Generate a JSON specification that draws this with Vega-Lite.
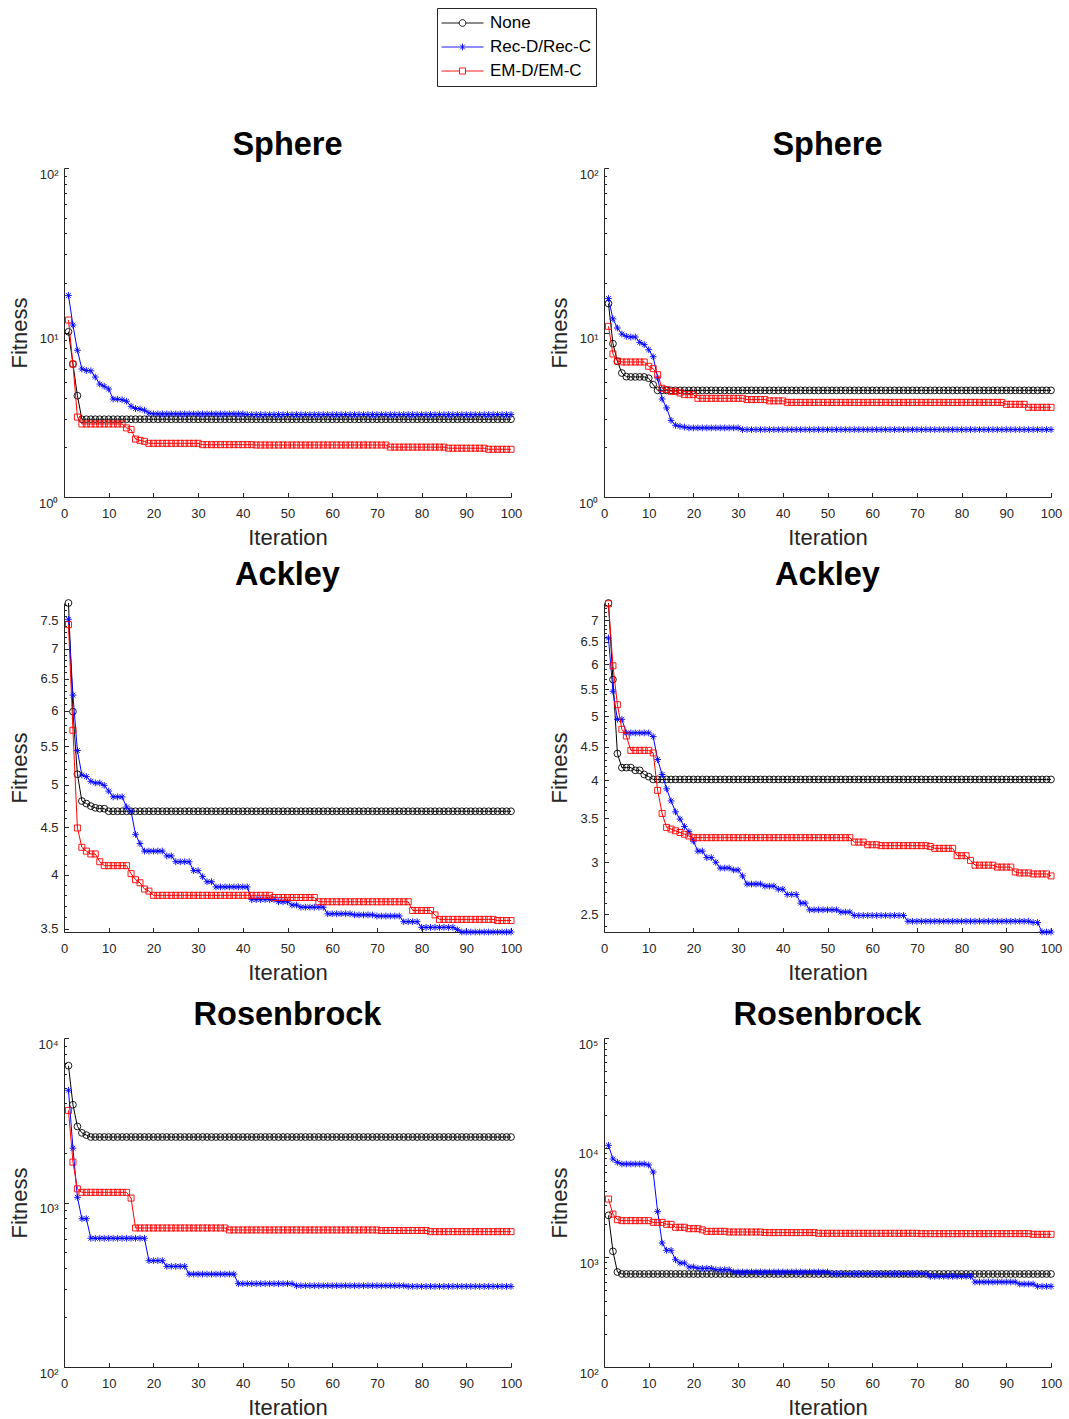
{
"$schema":"https://vega.github.io/schema/vega-lite/v6.json",
"autosize":{"type":"none"},
"padding":{"left":64,"top":168,"right":1005,"bottom":1251},
"background":"#ffffff",
"config":{
 "view":{"stroke":null},
 "font":"Liberation Sans",
 "axis":{"grid":false,"domainColor":"#262626","tickColor":"#262626","labelColor":"#262626","titleColor":"#262626","labelFont":"Liberation Sans","titleFont":"Liberation Sans","labelFontSize":13,"titleFontSize":22,"titleFontWeight":"normal","labelOverlap":false,"labelFlush":false,"domainWidth":1,"tickWidth":1},
 "title":{"font":"Liberation Sans","fontSize":32.5,"fontWeight":"bold","color":"#000000","anchor":"middle","frame":"group","baseline":"alphabetic","offset":6}
},
"columns":2,
"spacing":{"row":106,"column":93},
"bounds":"flush",
"concat":[
{"title":{"text":"Sphere"},"width":447,"height":329,
"encoding":{"x":{"field":"i","type":"quantitative","scale":{"domain":[0,100],"nice":false},"axis":{"values":[0,10,20,30,40,50,60,70,80,90,100],"tickSize":-4.5,"labelPadding":14.5,"title":"Iteration","titleY":47,"titleBaseline":"alphabetic"}}},
"layer":[
{"data":{"name":"s1n"},"mark":{"type":"line","strokeWidth":1,"point":{"shape":"circle","filled":false,"size":46,"strokeWidth":0.9}},"encoding":{"y":{"field":"v","type":"quantitative","scale":{"type":"log","domain":[1,100],"nice":false},"axis":{"orient":"left","values":[1,10,100],"labelExpr":"'10'+['⁰','¹','²','³','⁴','⁵'][round(log(datum.value)/LN10)]","tickSize":-4.5,"labelPadding":10.5,"labelOffset":6,"title":"Fitness","titleX":-37.6,"titleY":164.5,"titleAngle":-90,"titleAlign":"center","titleBaseline":"alphabetic"}},
 "color":{"datum":"None","scale":{"domain":["None","Rec-D/Rec-C","EM-D/EM-C"],"range":["#000000","#0000ff","#ff0000"]},"legend":{"title":null,"orient":"none","legendX":373,"legendY":-160,"direction":"vertical","strokeColor":"#262626","fillColor":"#ffffff","padding":4,"symbolSize":1764,"clipHeight":22,"rowPadding":2,"labelFontSize":17,"labelFont":"Liberation Sans","labelColor":"#000000","labelOffset":6,"symbolStrokeWidth":0.9,"encode":{"symbols":{"update":{"shape":{"signal":"datum.value==='None'?'M-1,0H-0.16M0.16,0H1M0.16,0A0.16,0.16,0,1,0,-0.16,0A0.16,0.16,0,1,0,0.16,0':datum.value==='Rec-D/Rec-C'?'M-1,0H1M0,-0.16V0.16M-0.113,-0.113L0.113,0.113M-0.113,0.113L0.113,-0.113':'M-1,0H-0.143M0.143,0H1M-0.143,-0.143H0.143V0.143H-0.143Z'"},"fill":{"value":"transparent"},"stroke":{"scale":"color","field":"value"},"strokeWidth":{"value":0.9},"size":{"value":1764},"opacity":{"value":1}}}}}}}},
{"data":{"name":"s1r"},"mark":{"type":"line","strokeWidth":1,"point":{"shape":"M0,-1V1M-1,0H1M-0.7,-0.7L0.7,0.7M-0.7,0.7L0.7,-0.7","filled":false,"size":46,"strokeWidth":0.9}},"encoding":{"y":{"field":"v","type":"quantitative","scale":{"type":"log","domain":[1,100],"nice":false},"axis":null},"color":{"datum":"Rec-D/Rec-C"}}},
{"data":{"name":"s1e"},"mark":{"type":"line","strokeWidth":1,"point":{"shape":"square","filled":false,"size":36,"strokeWidth":0.9}},"encoding":{"y":{"field":"v","type":"quantitative","scale":{"type":"log","domain":[1,100],"nice":false},"axis":null},"color":{"datum":"EM-D/EM-C"}}},
{"data":{"name":"s1n"},"mark":{"type":"point","opacity":0},"encoding":{"y":{"field":"v","type":"quantitative","scale":{"type":"log","domain":[1,100],"nice":false},"axis":{"orient":"left","values":[2,3,4,5,6,7,8,9,20,30,40,50,60,70,80,90],"labels":false,"domain":false,"title":null,"tickSize":-2.5}}}}
],"resolve":{"axis":{"y":"independent"}}},

{"title":{"text":"Sphere"},"width":447,"height":329,
"encoding":{"x":{"field":"i","type":"quantitative","scale":{"domain":[0,100],"nice":false},"axis":{"values":[0,10,20,30,40,50,60,70,80,90,100],"tickSize":-4.5,"labelPadding":14.5,"title":"Iteration","titleY":47,"titleBaseline":"alphabetic"}}},
"layer":[
{"data":{"name":"s2n"},"mark":{"type":"line","strokeWidth":1,"point":{"shape":"circle","filled":false,"size":46,"strokeWidth":0.9}},"encoding":{"y":{"field":"v","type":"quantitative","scale":{"type":"log","domain":[1,100],"nice":false},"axis":{"orient":"left","values":[1,10,100],"labelExpr":"'10'+['⁰','¹','²','³','⁴','⁵'][round(log(datum.value)/LN10)]","tickSize":-4.5,"labelPadding":10.5,"labelOffset":6,"title":"Fitness","titleX":-37.6,"titleY":164.5,"titleAngle":-90,"titleAlign":"center","titleBaseline":"alphabetic"}},"color":{"datum":"None"}}},
{"data":{"name":"s2r"},"mark":{"type":"line","strokeWidth":1,"point":{"shape":"M0,-1V1M-1,0H1M-0.7,-0.7L0.7,0.7M-0.7,0.7L0.7,-0.7","filled":false,"size":46,"strokeWidth":0.9}},"encoding":{"y":{"field":"v","type":"quantitative","scale":{"type":"log","domain":[1,100],"nice":false},"axis":null},"color":{"datum":"Rec-D/Rec-C"}}},
{"data":{"name":"s2e"},"mark":{"type":"line","strokeWidth":1,"point":{"shape":"square","filled":false,"size":36,"strokeWidth":0.9}},"encoding":{"y":{"field":"v","type":"quantitative","scale":{"type":"log","domain":[1,100],"nice":false},"axis":null},"color":{"datum":"EM-D/EM-C"}}},
{"data":{"name":"s2n"},"mark":{"type":"point","opacity":0},"encoding":{"y":{"field":"v","type":"quantitative","scale":{"type":"log","domain":[1,100],"nice":false},"axis":{"orient":"left","values":[2,3,4,5,6,7,8,9,20,30,40,50,60,70,80,90],"labels":false,"domain":false,"title":null,"tickSize":-2.5}}}}
],"resolve":{"axis":{"y":"independent"}}},

{"title":{"text":"Ackley"},"width":447,"height":329,
"encoding":{"x":{"field":"i","type":"quantitative","scale":{"domain":[0,100],"nice":false},"axis":{"values":[0,10,20,30,40,50,60,70,80,90,100],"tickSize":-4.5,"labelPadding":14.5,"title":"Iteration","titleY":47,"titleBaseline":"alphabetic"}}},
"layer":[
{"data":{"name":"a1n"},"mark":{"type":"line","strokeWidth":1,"point":{"shape":"circle","filled":false,"size":46,"strokeWidth":0.9}},"encoding":{"y":{"field":"v","type":"quantitative","scale":{"type":"log","domain":[3.47,7.84],"nice":false},"axis":{"orient":"left","values":[3.5,4,4.5,5,5.5,6,6.5,7,7.5],"format":"~g","tickSize":-4.5,"labelPadding":10.5,"title":"Fitness","titleX":-37.6,"titleY":164.5,"titleAngle":-90,"titleAlign":"center","titleBaseline":"alphabetic"}},"color":{"datum":"None"}}},
{"data":{"name":"a1r"},"mark":{"type":"line","strokeWidth":1,"point":{"shape":"M0,-1V1M-1,0H1M-0.7,-0.7L0.7,0.7M-0.7,0.7L0.7,-0.7","filled":false,"size":46,"strokeWidth":0.9}},"encoding":{"y":{"field":"v","type":"quantitative","scale":{"type":"log","domain":[3.47,7.84],"nice":false},"axis":null},"color":{"datum":"Rec-D/Rec-C"}}},
{"data":{"name":"a1e"},"mark":{"type":"line","strokeWidth":1,"point":{"shape":"square","filled":false,"size":36,"strokeWidth":0.9}},"encoding":{"y":{"field":"v","type":"quantitative","scale":{"type":"log","domain":[3.47,7.84],"nice":false},"axis":null},"color":{"datum":"EM-D/EM-C"}}},
{"data":{"name":"a1n"},"mark":{"type":"point","opacity":0},"encoding":{"y":{"field":"v","type":"quantitative","scale":{"type":"log","domain":[3.47,7.84],"nice":false},"axis":{"orient":"left","values":[3.6,3.7,3.8,3.9,4.1,4.2,4.3,4.4,4.6,4.7,4.8,4.9,5.1,5.2,5.3,5.4,5.6,5.7,5.8,5.9,6.1,6.2,6.3,6.4,6.6,6.7,6.8,6.9,7.1,7.2,7.3,7.4,7.6,7.7,7.8],"labels":false,"domain":false,"title":null,"tickSize":-2.5}}}}
],"resolve":{"axis":{"y":"independent"}}},

{"title":{"text":"Ackley"},"width":447,"height":329,
"encoding":{"x":{"field":"i","type":"quantitative","scale":{"domain":[0,100],"nice":false},"axis":{"values":[0,10,20,30,40,50,60,70,80,90,100],"tickSize":-4.5,"labelPadding":14.5,"title":"Iteration","titleY":47,"titleBaseline":"alphabetic"}}},
"layer":[
{"data":{"name":"a2n"},"mark":{"type":"line","strokeWidth":1,"point":{"shape":"circle","filled":false,"size":46,"strokeWidth":0.9}},"encoding":{"y":{"field":"v","type":"quantitative","scale":{"type":"log","domain":[2.35,7.44],"nice":false},"axis":{"orient":"left","values":[2.5,3,3.5,4,4.5,5,5.5,6,6.5,7],"format":"~g","tickSize":-4.5,"labelPadding":10.5,"title":"Fitness","titleX":-37.6,"titleY":164.5,"titleAngle":-90,"titleAlign":"center","titleBaseline":"alphabetic"}},"color":{"datum":"None"}}},
{"data":{"name":"a2r"},"mark":{"type":"line","strokeWidth":1,"point":{"shape":"M0,-1V1M-1,0H1M-0.7,-0.7L0.7,0.7M-0.7,0.7L0.7,-0.7","filled":false,"size":46,"strokeWidth":0.9}},"encoding":{"y":{"field":"v","type":"quantitative","scale":{"type":"log","domain":[2.35,7.44],"nice":false},"axis":null},"color":{"datum":"Rec-D/Rec-C"}}},
{"data":{"name":"a2e"},"mark":{"type":"line","strokeWidth":1,"point":{"shape":"square","filled":false,"size":36,"strokeWidth":0.9}},"encoding":{"y":{"field":"v","type":"quantitative","scale":{"type":"log","domain":[2.35,7.44],"nice":false},"axis":null},"color":{"datum":"EM-D/EM-C"}}},
{"data":{"name":"a2n"},"mark":{"type":"point","opacity":0},"encoding":{"y":{"field":"v","type":"quantitative","scale":{"type":"log","domain":[2.35,7.44],"nice":false},"axis":{"orient":"left","values":[2.4,2.6,2.7,2.8,2.9,3.1,3.2,3.3,3.4,3.6,3.7,3.8,3.9,4.1,4.2,4.3,4.4,4.6,4.7,4.8,4.9,5.1,5.2,5.3,5.4,5.6,5.7,5.8,5.9,6.1,6.2,6.3,6.4,6.6,6.7,6.8,6.9,7.1,7.2,7.3,7.4],"labels":false,"domain":false,"title":null,"tickSize":-2.5}}}}
],"resolve":{"axis":{"y":"independent"}}},

{"title":{"text":"Rosenbrock"},"width":447,"height":329,
"encoding":{"x":{"field":"i","type":"quantitative","scale":{"domain":[0,100],"nice":false},"axis":{"values":[0,10,20,30,40,50,60,70,80,90,100],"tickSize":-4.5,"labelPadding":14.5,"title":"Iteration","titleY":47,"titleBaseline":"alphabetic"}}},
"layer":[
{"data":{"name":"r1n"},"mark":{"type":"line","strokeWidth":1,"point":{"shape":"circle","filled":false,"size":46,"strokeWidth":0.9}},"encoding":{"y":{"field":"v","type":"quantitative","scale":{"type":"log","domain":[100,10000],"nice":false},"axis":{"orient":"left","values":[100,1000,10000],"labelExpr":"'10'+['⁰','¹','²','³','⁴','⁵'][round(log(datum.value)/LN10)]","tickSize":-4.5,"labelPadding":10.5,"labelOffset":6,"title":"Fitness","titleX":-37.6,"titleY":164.5,"titleAngle":-90,"titleAlign":"center","titleBaseline":"alphabetic"}},"color":{"datum":"None"}}},
{"data":{"name":"r1r"},"mark":{"type":"line","strokeWidth":1,"point":{"shape":"M0,-1V1M-1,0H1M-0.7,-0.7L0.7,0.7M-0.7,0.7L0.7,-0.7","filled":false,"size":46,"strokeWidth":0.9}},"encoding":{"y":{"field":"v","type":"quantitative","scale":{"type":"log","domain":[100,10000],"nice":false},"axis":null},"color":{"datum":"Rec-D/Rec-C"}}},
{"data":{"name":"r1e"},"mark":{"type":"line","strokeWidth":1,"point":{"shape":"square","filled":false,"size":36,"strokeWidth":0.9}},"encoding":{"y":{"field":"v","type":"quantitative","scale":{"type":"log","domain":[100,10000],"nice":false},"axis":null},"color":{"datum":"EM-D/EM-C"}}},
{"data":{"name":"r1n"},"mark":{"type":"point","opacity":0},"encoding":{"y":{"field":"v","type":"quantitative","scale":{"type":"log","domain":[100,10000],"nice":false},"axis":{"orient":"left","values":[200,300,400,500,600,700,800,900,2000,3000,4000,5000,6000,7000,8000,9000],"labels":false,"domain":false,"title":null,"tickSize":-2.5}}}}
],"resolve":{"axis":{"y":"independent"}}},

{"title":{"text":"Rosenbrock"},"width":447,"height":329,
"encoding":{"x":{"field":"i","type":"quantitative","scale":{"domain":[0,100],"nice":false},"axis":{"values":[0,10,20,30,40,50,60,70,80,90,100],"tickSize":-4.5,"labelPadding":14.5,"title":"Iteration","titleY":47,"titleBaseline":"alphabetic"}}},
"layer":[
{"data":{"name":"r2n"},"mark":{"type":"line","strokeWidth":1,"point":{"shape":"circle","filled":false,"size":46,"strokeWidth":0.9}},"encoding":{"y":{"field":"v","type":"quantitative","scale":{"type":"log","domain":[100,100000],"nice":false},"axis":{"orient":"left","values":[100,1000,10000,100000],"labelExpr":"'10'+['⁰','¹','²','³','⁴','⁵'][round(log(datum.value)/LN10)]","tickSize":-4.5,"labelPadding":10.5,"labelOffset":6,"title":"Fitness","titleX":-37.6,"titleY":164.5,"titleAngle":-90,"titleAlign":"center","titleBaseline":"alphabetic"}},"color":{"datum":"None"}}},
{"data":{"name":"r2r"},"mark":{"type":"line","strokeWidth":1,"point":{"shape":"M0,-1V1M-1,0H1M-0.7,-0.7L0.7,0.7M-0.7,0.7L0.7,-0.7","filled":false,"size":46,"strokeWidth":0.9}},"encoding":{"y":{"field":"v","type":"quantitative","scale":{"type":"log","domain":[100,100000],"nice":false},"axis":null},"color":{"datum":"Rec-D/Rec-C"}}},
{"data":{"name":"r2e"},"mark":{"type":"line","strokeWidth":1,"point":{"shape":"square","filled":false,"size":36,"strokeWidth":0.9}},"encoding":{"y":{"field":"v","type":"quantitative","scale":{"type":"log","domain":[100,100000],"nice":false},"axis":null},"color":{"datum":"EM-D/EM-C"}}},
{"data":{"name":"r2n"},"mark":{"type":"point","opacity":0},"encoding":{"y":{"field":"v","type":"quantitative","scale":{"type":"log","domain":[100,100000],"nice":false},"axis":{"orient":"left","values":[200,300,400,500,600,700,800,900,2000,3000,4000,5000,6000,7000,8000,9000,20000,30000,40000,50000,60000,70000,80000,90000],"labels":false,"domain":false,"title":null,"tickSize":-2.5}}}}
],"resolve":{"axis":{"y":"independent"}}}
],
"datasets":{
"s1n":[{"i":1,"v":10.1},{"i":2,"v":6.43},{"i":3,"v":4.13},{"i":4,"v":2.97},{"i":5,"v":2.97},{"i":6,"v":2.97},{"i":7,"v":2.97},{"i":8,"v":2.97},{"i":9,"v":2.97},{"i":10,"v":2.97},
{"i":11,"v":2.97},{"i":12,"v":2.97},{"i":13,"v":2.97},{"i":14,"v":2.97},{"i":15,"v":2.97},{"i":16,"v":2.97},{"i":17,"v":2.97},{"i":18,"v":2.97},{"i":19,"v":2.97},{"i":20,"v":2.97},
{"i":21,"v":2.97},{"i":22,"v":2.97},{"i":23,"v":2.97},{"i":24,"v":2.97},{"i":25,"v":2.97},{"i":26,"v":2.97},{"i":27,"v":2.97},{"i":28,"v":2.97},{"i":29,"v":2.97},{"i":30,"v":2.97},
{"i":31,"v":2.97},{"i":32,"v":2.97},{"i":33,"v":2.97},{"i":34,"v":2.97},{"i":35,"v":2.97},{"i":36,"v":2.97},{"i":37,"v":2.97},{"i":38,"v":2.97},{"i":39,"v":2.97},{"i":40,"v":2.97},
{"i":41,"v":2.97},{"i":42,"v":2.97},{"i":43,"v":2.97},{"i":44,"v":2.97},{"i":45,"v":2.97},{"i":46,"v":2.97},{"i":47,"v":2.97},{"i":48,"v":2.97},{"i":49,"v":2.97},{"i":50,"v":2.97},
{"i":51,"v":2.97},{"i":52,"v":2.97},{"i":53,"v":2.97},{"i":54,"v":2.97},{"i":55,"v":2.97},{"i":56,"v":2.97},{"i":57,"v":2.97},{"i":58,"v":2.97},{"i":59,"v":2.97},{"i":60,"v":2.97},
{"i":61,"v":2.97},{"i":62,"v":2.97},{"i":63,"v":2.97},{"i":64,"v":2.97},{"i":65,"v":2.97},{"i":66,"v":2.97},{"i":67,"v":2.97},{"i":68,"v":2.97},{"i":69,"v":2.97},{"i":70,"v":2.97},
{"i":71,"v":2.97},{"i":72,"v":2.97},{"i":73,"v":2.97},{"i":74,"v":2.97},{"i":75,"v":2.97},{"i":76,"v":2.97},{"i":77,"v":2.97},{"i":78,"v":2.97},{"i":79,"v":2.97},{"i":80,"v":2.97},
{"i":81,"v":2.97},{"i":82,"v":2.97},{"i":83,"v":2.97},{"i":84,"v":2.97},{"i":85,"v":2.97},{"i":86,"v":2.97},{"i":87,"v":2.97},{"i":88,"v":2.97},{"i":89,"v":2.97},{"i":90,"v":2.97},
{"i":91,"v":2.97},{"i":92,"v":2.97},{"i":93,"v":2.97},{"i":94,"v":2.97},{"i":95,"v":2.97},{"i":96,"v":2.97},{"i":97,"v":2.97},{"i":98,"v":2.97},{"i":99,"v":2.97},{"i":100,"v":2.97}],
"s1r":[{"i":1,"v":16.8},{"i":2,"v":11.1},{"i":3,"v":7.8},{"i":4,"v":6.0},{"i":5,"v":5.88},{"i":6,"v":5.85},{"i":7,"v":5.36},{"i":8,"v":4.86},{"i":9,"v":4.71},{"i":10,"v":4.53},
{"i":11,"v":3.94},{"i":12,"v":3.93},{"i":13,"v":3.9},{"i":14,"v":3.82},{"i":15,"v":3.56},{"i":16,"v":3.45},{"i":17,"v":3.43},{"i":18,"v":3.37},{"i":19,"v":3.24},{"i":20,"v":3.2},
{"i":21,"v":3.2},{"i":22,"v":3.2},{"i":23,"v":3.2},{"i":24,"v":3.2},{"i":25,"v":3.2},{"i":26,"v":3.2},{"i":27,"v":3.2},{"i":28,"v":3.2},{"i":29,"v":3.2},{"i":30,"v":3.2},
{"i":31,"v":3.2},{"i":32,"v":3.2},{"i":33,"v":3.2},{"i":34,"v":3.2},{"i":35,"v":3.2},{"i":36,"v":3.2},{"i":37,"v":3.2},{"i":38,"v":3.2},{"i":39,"v":3.2},{"i":40,"v":3.2},
{"i":41,"v":3.17},{"i":42,"v":3.17},{"i":43,"v":3.17},{"i":44,"v":3.17},{"i":45,"v":3.17},{"i":46,"v":3.17},{"i":47,"v":3.17},{"i":48,"v":3.17},{"i":49,"v":3.17},{"i":50,"v":3.17},
{"i":51,"v":3.17},{"i":52,"v":3.17},{"i":53,"v":3.17},{"i":54,"v":3.17},{"i":55,"v":3.17},{"i":56,"v":3.17},{"i":57,"v":3.17},{"i":58,"v":3.17},{"i":59,"v":3.17},{"i":60,"v":3.17},
{"i":61,"v":3.17},{"i":62,"v":3.17},{"i":63,"v":3.17},{"i":64,"v":3.17},{"i":65,"v":3.17},{"i":66,"v":3.17},{"i":67,"v":3.17},{"i":68,"v":3.17},{"i":69,"v":3.17},{"i":70,"v":3.17},
{"i":71,"v":3.17},{"i":72,"v":3.17},{"i":73,"v":3.17},{"i":74,"v":3.17},{"i":75,"v":3.17},{"i":76,"v":3.17},{"i":77,"v":3.17},{"i":78,"v":3.17},{"i":79,"v":3.17},{"i":80,"v":3.17},
{"i":81,"v":3.17},{"i":82,"v":3.17},{"i":83,"v":3.17},{"i":84,"v":3.17},{"i":85,"v":3.17},{"i":86,"v":3.17},{"i":87,"v":3.17},{"i":88,"v":3.17},{"i":89,"v":3.17},{"i":90,"v":3.17},
{"i":91,"v":3.17},{"i":92,"v":3.17},{"i":93,"v":3.17},{"i":94,"v":3.17},{"i":95,"v":3.17},{"i":96,"v":3.17},{"i":97,"v":3.17},{"i":98,"v":3.17},{"i":99,"v":3.17},{"i":100,"v":3.17}],
"s1e":[{"i":1,"v":11.9},{"i":2,"v":6.43},{"i":3,"v":3.06},{"i":4,"v":2.78},{"i":5,"v":2.78},{"i":6,"v":2.78},{"i":7,"v":2.78},{"i":8,"v":2.78},{"i":9,"v":2.78},{"i":10,"v":2.78},
{"i":11,"v":2.78},{"i":12,"v":2.78},{"i":13,"v":2.78},{"i":14,"v":2.63},{"i":15,"v":2.57},{"i":16,"v":2.25},{"i":17,"v":2.21},{"i":18,"v":2.18},{"i":19,"v":2.12},{"i":20,"v":2.12},
{"i":21,"v":2.12},{"i":22,"v":2.12},{"i":23,"v":2.12},{"i":24,"v":2.12},{"i":25,"v":2.12},{"i":26,"v":2.12},{"i":27,"v":2.12},{"i":28,"v":2.12},{"i":29,"v":2.12},{"i":30,"v":2.12},
{"i":31,"v":2.08},{"i":32,"v":2.08},{"i":33,"v":2.08},{"i":34,"v":2.08},{"i":35,"v":2.08},{"i":36,"v":2.08},{"i":37,"v":2.08},{"i":38,"v":2.08},{"i":39,"v":2.08},{"i":40,"v":2.08},
{"i":41,"v":2.08},{"i":42,"v":2.08},{"i":43,"v":2.07},{"i":44,"v":2.07},{"i":45,"v":2.07},{"i":46,"v":2.07},{"i":47,"v":2.07},{"i":48,"v":2.07},{"i":49,"v":2.07},{"i":50,"v":2.07},
{"i":51,"v":2.07},{"i":52,"v":2.07},{"i":53,"v":2.07},{"i":54,"v":2.07},{"i":55,"v":2.07},{"i":56,"v":2.07},{"i":57,"v":2.07},{"i":58,"v":2.07},{"i":59,"v":2.07},{"i":60,"v":2.07},
{"i":61,"v":2.07},{"i":62,"v":2.07},{"i":63,"v":2.07},{"i":64,"v":2.07},{"i":65,"v":2.07},{"i":66,"v":2.07},{"i":67,"v":2.07},{"i":68,"v":2.07},{"i":69,"v":2.07},{"i":70,"v":2.07},
{"i":71,"v":2.07},{"i":72,"v":2.07},{"i":73,"v":2.01},{"i":74,"v":2.01},{"i":75,"v":2.01},{"i":76,"v":2.01},{"i":77,"v":2.01},{"i":78,"v":2.01},{"i":79,"v":2.01},{"i":80,"v":2.01},
{"i":81,"v":2.01},{"i":82,"v":2.01},{"i":83,"v":2.01},{"i":84,"v":2.01},{"i":85,"v":2.01},{"i":86,"v":1.98},{"i":87,"v":1.98},{"i":88,"v":1.98},{"i":89,"v":1.98},{"i":90,"v":1.98},
{"i":91,"v":1.98},{"i":92,"v":1.98},{"i":93,"v":1.98},{"i":94,"v":1.98},{"i":95,"v":1.95},{"i":96,"v":1.95},{"i":97,"v":1.95},{"i":98,"v":1.95},{"i":99,"v":1.95},{"i":100,"v":1.95}],
"s2n":[{"i":1,"v":15.0},{"i":2,"v":8.55},{"i":3,"v":6.68},{"i":4,"v":5.67},{"i":5,"v":5.39},{"i":6,"v":5.37},{"i":7,"v":5.37},{"i":8,"v":5.37},{"i":9,"v":5.37},{"i":10,"v":5.27},
{"i":11,"v":4.82},{"i":12,"v":4.45},{"i":13,"v":4.45},{"i":14,"v":4.45},{"i":15,"v":4.45},{"i":16,"v":4.45},{"i":17,"v":4.45},{"i":18,"v":4.45},{"i":19,"v":4.45},{"i":20,"v":4.45},
{"i":21,"v":4.45},{"i":22,"v":4.45},{"i":23,"v":4.45},{"i":24,"v":4.45},{"i":25,"v":4.45},{"i":26,"v":4.45},{"i":27,"v":4.45},{"i":28,"v":4.45},{"i":29,"v":4.45},{"i":30,"v":4.45},
{"i":31,"v":4.45},{"i":32,"v":4.45},{"i":33,"v":4.45},{"i":34,"v":4.45},{"i":35,"v":4.45},{"i":36,"v":4.45},{"i":37,"v":4.45},{"i":38,"v":4.45},{"i":39,"v":4.45},{"i":40,"v":4.45},
{"i":41,"v":4.45},{"i":42,"v":4.45},{"i":43,"v":4.45},{"i":44,"v":4.45},{"i":45,"v":4.45},{"i":46,"v":4.45},{"i":47,"v":4.45},{"i":48,"v":4.45},{"i":49,"v":4.45},{"i":50,"v":4.45},
{"i":51,"v":4.45},{"i":52,"v":4.45},{"i":53,"v":4.45},{"i":54,"v":4.45},{"i":55,"v":4.45},{"i":56,"v":4.45},{"i":57,"v":4.45},{"i":58,"v":4.45},{"i":59,"v":4.45},{"i":60,"v":4.45},
{"i":61,"v":4.45},{"i":62,"v":4.45},{"i":63,"v":4.45},{"i":64,"v":4.45},{"i":65,"v":4.45},{"i":66,"v":4.45},{"i":67,"v":4.45},{"i":68,"v":4.45},{"i":69,"v":4.45},{"i":70,"v":4.45},
{"i":71,"v":4.45},{"i":72,"v":4.45},{"i":73,"v":4.45},{"i":74,"v":4.45},{"i":75,"v":4.45},{"i":76,"v":4.45},{"i":77,"v":4.45},{"i":78,"v":4.45},{"i":79,"v":4.45},{"i":80,"v":4.45},
{"i":81,"v":4.45},{"i":82,"v":4.45},{"i":83,"v":4.45},{"i":84,"v":4.45},{"i":85,"v":4.45},{"i":86,"v":4.45},{"i":87,"v":4.45},{"i":88,"v":4.45},{"i":89,"v":4.45},{"i":90,"v":4.45},
{"i":91,"v":4.45},{"i":92,"v":4.45},{"i":93,"v":4.45},{"i":94,"v":4.45},{"i":95,"v":4.45},{"i":96,"v":4.45},{"i":97,"v":4.45},{"i":98,"v":4.45},{"i":99,"v":4.45},{"i":100,"v":4.45}],
"s2r":[{"i":1,"v":16.1},{"i":2,"v":12.1},{"i":3,"v":10.65},{"i":4,"v":9.79},{"i":5,"v":9.48},{"i":6,"v":9.39},{"i":7,"v":9.39},{"i":8,"v":8.71},{"i":9,"v":8.44},{"i":10,"v":7.86},
{"i":11,"v":7.13},{"i":12,"v":5.29},{"i":13,"v":3.94},{"i":14,"v":3.48},{"i":15,"v":2.92},{"i":16,"v":2.73},{"i":17,"v":2.69},{"i":18,"v":2.66},{"i":19,"v":2.63},{"i":20,"v":2.63},
{"i":21,"v":2.63},{"i":22,"v":2.63},{"i":23,"v":2.63},{"i":24,"v":2.63},{"i":25,"v":2.63},{"i":26,"v":2.63},{"i":27,"v":2.63},{"i":28,"v":2.63},{"i":29,"v":2.63},{"i":30,"v":2.63},
{"i":31,"v":2.57},{"i":32,"v":2.57},{"i":33,"v":2.57},{"i":34,"v":2.57},{"i":35,"v":2.57},{"i":36,"v":2.57},{"i":37,"v":2.57},{"i":38,"v":2.57},{"i":39,"v":2.57},{"i":40,"v":2.57},
{"i":41,"v":2.57},{"i":42,"v":2.57},{"i":43,"v":2.57},{"i":44,"v":2.57},{"i":45,"v":2.57},{"i":46,"v":2.57},{"i":47,"v":2.57},{"i":48,"v":2.57},{"i":49,"v":2.57},{"i":50,"v":2.57},
{"i":51,"v":2.57},{"i":52,"v":2.57},{"i":53,"v":2.57},{"i":54,"v":2.57},{"i":55,"v":2.57},{"i":56,"v":2.57},{"i":57,"v":2.57},{"i":58,"v":2.57},{"i":59,"v":2.57},{"i":60,"v":2.57},
{"i":61,"v":2.57},{"i":62,"v":2.57},{"i":63,"v":2.57},{"i":64,"v":2.57},{"i":65,"v":2.57},{"i":66,"v":2.57},{"i":67,"v":2.57},{"i":68,"v":2.57},{"i":69,"v":2.57},{"i":70,"v":2.57},
{"i":71,"v":2.57},{"i":72,"v":2.57},{"i":73,"v":2.57},{"i":74,"v":2.57},{"i":75,"v":2.57},{"i":76,"v":2.57},{"i":77,"v":2.57},{"i":78,"v":2.57},{"i":79,"v":2.57},{"i":80,"v":2.57},
{"i":81,"v":2.57},{"i":82,"v":2.57},{"i":83,"v":2.57},{"i":84,"v":2.57},{"i":85,"v":2.57},{"i":86,"v":2.57},{"i":87,"v":2.57},{"i":88,"v":2.57},{"i":89,"v":2.57},{"i":90,"v":2.57},
{"i":91,"v":2.57},{"i":92,"v":2.57},{"i":93,"v":2.57},{"i":94,"v":2.57},{"i":95,"v":2.57},{"i":96,"v":2.57},{"i":97,"v":2.57},{"i":98,"v":2.57},{"i":99,"v":2.57},{"i":100,"v":2.57}],
"s2e":[{"i":1,"v":10.9},{"i":2,"v":7.4},{"i":3,"v":6.71},{"i":4,"v":6.62},{"i":5,"v":6.62},{"i":6,"v":6.62},{"i":7,"v":6.62},{"i":8,"v":6.62},{"i":9,"v":6.62},{"i":10,"v":6.23},
{"i":11,"v":6.03},{"i":12,"v":5.54},{"i":13,"v":4.58},{"i":14,"v":4.5},{"i":15,"v":4.39},{"i":16,"v":4.39},{"i":17,"v":4.29},{"i":18,"v":4.19},{"i":19,"v":4.19},{"i":20,"v":4.19},
{"i":21,"v":3.98},{"i":22,"v":3.98},{"i":23,"v":3.98},{"i":24,"v":3.98},{"i":25,"v":3.98},{"i":26,"v":3.98},{"i":27,"v":3.98},{"i":28,"v":3.98},{"i":29,"v":3.98},{"i":30,"v":3.98},
{"i":31,"v":3.98},{"i":32,"v":3.91},{"i":33,"v":3.91},{"i":34,"v":3.91},{"i":35,"v":3.91},{"i":36,"v":3.91},{"i":37,"v":3.84},{"i":38,"v":3.84},{"i":39,"v":3.84},{"i":40,"v":3.84},
{"i":41,"v":3.76},{"i":42,"v":3.76},{"i":43,"v":3.76},{"i":44,"v":3.76},{"i":45,"v":3.76},{"i":46,"v":3.76},{"i":47,"v":3.76},{"i":48,"v":3.76},{"i":49,"v":3.76},{"i":50,"v":3.76},
{"i":51,"v":3.76},{"i":52,"v":3.76},{"i":53,"v":3.76},{"i":54,"v":3.76},{"i":55,"v":3.76},{"i":56,"v":3.76},{"i":57,"v":3.76},{"i":58,"v":3.76},{"i":59,"v":3.76},{"i":60,"v":3.76},
{"i":61,"v":3.76},{"i":62,"v":3.76},{"i":63,"v":3.76},{"i":64,"v":3.76},{"i":65,"v":3.76},{"i":66,"v":3.76},{"i":67,"v":3.76},{"i":68,"v":3.76},{"i":69,"v":3.76},{"i":70,"v":3.76},
{"i":71,"v":3.76},{"i":72,"v":3.76},{"i":73,"v":3.76},{"i":74,"v":3.76},{"i":75,"v":3.76},{"i":76,"v":3.76},{"i":77,"v":3.76},{"i":78,"v":3.76},{"i":79,"v":3.76},{"i":80,"v":3.76},
{"i":81,"v":3.76},{"i":82,"v":3.76},{"i":83,"v":3.76},{"i":84,"v":3.76},{"i":85,"v":3.76},{"i":86,"v":3.76},{"i":87,"v":3.76},{"i":88,"v":3.76},{"i":89,"v":3.76},{"i":90,"v":3.66},
{"i":91,"v":3.66},{"i":92,"v":3.66},{"i":93,"v":3.66},{"i":94,"v":3.66},{"i":95,"v":3.51},{"i":96,"v":3.51},{"i":97,"v":3.51},{"i":98,"v":3.51},{"i":99,"v":3.51},{"i":100,"v":3.51}],
"a1n":[{"i":1,"v":7.84},{"i":2,"v":5.99},{"i":3,"v":5.13},{"i":4,"v":4.8},{"i":5,"v":4.77},{"i":6,"v":4.74},{"i":7,"v":4.72},{"i":8,"v":4.71},{"i":9,"v":4.71},{"i":10,"v":4.68},
{"i":11,"v":4.68},{"i":12,"v":4.68},{"i":13,"v":4.68},{"i":14,"v":4.68},{"i":15,"v":4.68},{"i":16,"v":4.68},{"i":17,"v":4.68},{"i":18,"v":4.68},{"i":19,"v":4.68},{"i":20,"v":4.68},
{"i":21,"v":4.68},{"i":22,"v":4.68},{"i":23,"v":4.68},{"i":24,"v":4.68},{"i":25,"v":4.68},{"i":26,"v":4.68},{"i":27,"v":4.68},{"i":28,"v":4.68},{"i":29,"v":4.68},{"i":30,"v":4.68},
{"i":31,"v":4.68},{"i":32,"v":4.68},{"i":33,"v":4.68},{"i":34,"v":4.68},{"i":35,"v":4.68},{"i":36,"v":4.68},{"i":37,"v":4.68},{"i":38,"v":4.68},{"i":39,"v":4.68},{"i":40,"v":4.68},
{"i":41,"v":4.68},{"i":42,"v":4.68},{"i":43,"v":4.68},{"i":44,"v":4.68},{"i":45,"v":4.68},{"i":46,"v":4.68},{"i":47,"v":4.68},{"i":48,"v":4.68},{"i":49,"v":4.68},{"i":50,"v":4.68},
{"i":51,"v":4.68},{"i":52,"v":4.68},{"i":53,"v":4.68},{"i":54,"v":4.68},{"i":55,"v":4.68},{"i":56,"v":4.68},{"i":57,"v":4.68},{"i":58,"v":4.68},{"i":59,"v":4.68},{"i":60,"v":4.68},
{"i":61,"v":4.68},{"i":62,"v":4.68},{"i":63,"v":4.68},{"i":64,"v":4.68},{"i":65,"v":4.68},{"i":66,"v":4.68},{"i":67,"v":4.68},{"i":68,"v":4.68},{"i":69,"v":4.68},{"i":70,"v":4.68},
{"i":71,"v":4.68},{"i":72,"v":4.68},{"i":73,"v":4.68},{"i":74,"v":4.68},{"i":75,"v":4.68},{"i":76,"v":4.68},{"i":77,"v":4.68},{"i":78,"v":4.68},{"i":79,"v":4.68},{"i":80,"v":4.68},
{"i":81,"v":4.68},{"i":82,"v":4.68},{"i":83,"v":4.68},{"i":84,"v":4.68},{"i":85,"v":4.68},{"i":86,"v":4.68},{"i":87,"v":4.68},{"i":88,"v":4.68},{"i":89,"v":4.68},{"i":90,"v":4.68},
{"i":91,"v":4.68},{"i":92,"v":4.68},{"i":93,"v":4.68},{"i":94,"v":4.68},{"i":95,"v":4.68},{"i":96,"v":4.68},{"i":97,"v":4.68},{"i":98,"v":4.68},{"i":99,"v":4.68},{"i":100,"v":4.68}],
"a1r":[{"i":1,"v":7.53},{"i":2,"v":6.24},{"i":3,"v":5.44},{"i":4,"v":5.12},{"i":5,"v":5.1},{"i":6,"v":5.04},{"i":7,"v":5.02},{"i":8,"v":5.02},{"i":9,"v":4.99},{"i":10,"v":4.92},
{"i":11,"v":4.85},{"i":12,"v":4.85},{"i":13,"v":4.85},{"i":14,"v":4.73},{"i":15,"v":4.68},{"i":16,"v":4.42},{"i":17,"v":4.32},{"i":18,"v":4.24},{"i":19,"v":4.24},{"i":20,"v":4.24},
{"i":21,"v":4.24},{"i":22,"v":4.24},{"i":23,"v":4.19},{"i":24,"v":4.19},{"i":25,"v":4.13},{"i":26,"v":4.13},{"i":27,"v":4.13},{"i":28,"v":4.13},{"i":29,"v":4.04},{"i":30,"v":4.04},
{"i":31,"v":3.98},{"i":32,"v":3.93},{"i":33,"v":3.93},{"i":34,"v":3.88},{"i":35,"v":3.88},{"i":36,"v":3.88},{"i":37,"v":3.88},{"i":38,"v":3.88},{"i":39,"v":3.88},{"i":40,"v":3.88},
{"i":41,"v":3.88},{"i":42,"v":3.76},{"i":43,"v":3.76},{"i":44,"v":3.76},{"i":45,"v":3.76},{"i":46,"v":3.76},{"i":47,"v":3.76},{"i":48,"v":3.74},{"i":49,"v":3.74},{"i":50,"v":3.74},
{"i":51,"v":3.71},{"i":52,"v":3.71},{"i":53,"v":3.69},{"i":54,"v":3.69},{"i":55,"v":3.69},{"i":56,"v":3.69},{"i":57,"v":3.69},{"i":58,"v":3.69},{"i":59,"v":3.63},{"i":60,"v":3.63},
{"i":61,"v":3.63},{"i":62,"v":3.63},{"i":63,"v":3.63},{"i":64,"v":3.63},{"i":65,"v":3.62},{"i":66,"v":3.62},{"i":67,"v":3.62},{"i":68,"v":3.62},{"i":69,"v":3.62},{"i":70,"v":3.61},
{"i":71,"v":3.61},{"i":72,"v":3.61},{"i":73,"v":3.61},{"i":74,"v":3.61},{"i":75,"v":3.61},{"i":76,"v":3.56},{"i":77,"v":3.56},{"i":78,"v":3.56},{"i":79,"v":3.56},{"i":80,"v":3.51},
{"i":81,"v":3.51},{"i":82,"v":3.51},{"i":83,"v":3.51},{"i":84,"v":3.51},{"i":85,"v":3.51},{"i":86,"v":3.51},{"i":87,"v":3.51},{"i":88,"v":3.49},{"i":89,"v":3.47},{"i":90,"v":3.47},
{"i":91,"v":3.47},{"i":92,"v":3.47},{"i":93,"v":3.47},{"i":94,"v":3.47},{"i":95,"v":3.47},{"i":96,"v":3.47},{"i":97,"v":3.47},{"i":98,"v":3.47},{"i":99,"v":3.47},{"i":100,"v":3.47}],
"a1e":[{"i":1,"v":7.43},{"i":2,"v":5.72},{"i":3,"v":4.49},{"i":4,"v":4.28},{"i":5,"v":4.24},{"i":6,"v":4.21},{"i":7,"v":4.21},{"i":8,"v":4.13},{"i":9,"v":4.09},{"i":10,"v":4.09},
{"i":11,"v":4.09},{"i":12,"v":4.09},{"i":13,"v":4.09},{"i":14,"v":4.09},{"i":15,"v":4.01},{"i":16,"v":3.95},{"i":17,"v":3.92},{"i":18,"v":3.86},{"i":19,"v":3.84},{"i":20,"v":3.8},
{"i":21,"v":3.8},{"i":22,"v":3.8},{"i":23,"v":3.8},{"i":24,"v":3.8},{"i":25,"v":3.8},{"i":26,"v":3.8},{"i":27,"v":3.8},{"i":28,"v":3.8},{"i":29,"v":3.8},{"i":30,"v":3.8},
{"i":31,"v":3.8},{"i":32,"v":3.8},{"i":33,"v":3.8},{"i":34,"v":3.8},{"i":35,"v":3.8},{"i":36,"v":3.8},{"i":37,"v":3.8},{"i":38,"v":3.8},{"i":39,"v":3.8},{"i":40,"v":3.8},
{"i":41,"v":3.8},{"i":42,"v":3.8},{"i":43,"v":3.8},{"i":44,"v":3.8},{"i":45,"v":3.8},{"i":46,"v":3.8},{"i":47,"v":3.78},{"i":48,"v":3.78},{"i":49,"v":3.78},{"i":50,"v":3.78},
{"i":51,"v":3.78},{"i":52,"v":3.78},{"i":53,"v":3.78},{"i":54,"v":3.78},{"i":55,"v":3.78},{"i":56,"v":3.78},{"i":57,"v":3.74},{"i":58,"v":3.74},{"i":59,"v":3.74},{"i":60,"v":3.74},
{"i":61,"v":3.74},{"i":62,"v":3.74},{"i":63,"v":3.74},{"i":64,"v":3.74},{"i":65,"v":3.74},{"i":66,"v":3.74},{"i":67,"v":3.74},{"i":68,"v":3.74},{"i":69,"v":3.74},{"i":70,"v":3.74},
{"i":71,"v":3.74},{"i":72,"v":3.74},{"i":73,"v":3.74},{"i":74,"v":3.74},{"i":75,"v":3.74},{"i":76,"v":3.74},{"i":77,"v":3.74},{"i":78,"v":3.66},{"i":79,"v":3.66},{"i":80,"v":3.66},
{"i":81,"v":3.66},{"i":82,"v":3.66},{"i":83,"v":3.62},{"i":84,"v":3.58},{"i":85,"v":3.58},{"i":86,"v":3.58},{"i":87,"v":3.58},{"i":88,"v":3.58},{"i":89,"v":3.58},{"i":90,"v":3.58},
{"i":91,"v":3.58},{"i":92,"v":3.58},{"i":93,"v":3.58},{"i":94,"v":3.58},{"i":95,"v":3.58},{"i":96,"v":3.58},{"i":97,"v":3.57},{"i":98,"v":3.57},{"i":99,"v":3.57},{"i":100,"v":3.57}],
"a2n":[{"i":1,"v":7.44},{"i":2,"v":5.69},{"i":3,"v":4.39},{"i":4,"v":4.18},{"i":5,"v":4.18},{"i":6,"v":4.18},{"i":7,"v":4.14},{"i":8,"v":4.14},{"i":9,"v":4.08},{"i":10,"v":4.05},
{"i":11,"v":4.01},{"i":12,"v":4.01},{"i":13,"v":4.01},{"i":14,"v":4.01},{"i":15,"v":4.01},{"i":16,"v":4.01},{"i":17,"v":4.01},{"i":18,"v":4.01},{"i":19,"v":4.01},{"i":20,"v":4.01},
{"i":21,"v":4.01},{"i":22,"v":4.01},{"i":23,"v":4.01},{"i":24,"v":4.01},{"i":25,"v":4.01},{"i":26,"v":4.01},{"i":27,"v":4.01},{"i":28,"v":4.01},{"i":29,"v":4.01},{"i":30,"v":4.01},
{"i":31,"v":4.01},{"i":32,"v":4.01},{"i":33,"v":4.01},{"i":34,"v":4.01},{"i":35,"v":4.01},{"i":36,"v":4.01},{"i":37,"v":4.01},{"i":38,"v":4.01},{"i":39,"v":4.01},{"i":40,"v":4.01},
{"i":41,"v":4.01},{"i":42,"v":4.01},{"i":43,"v":4.01},{"i":44,"v":4.01},{"i":45,"v":4.01},{"i":46,"v":4.01},{"i":47,"v":4.01},{"i":48,"v":4.01},{"i":49,"v":4.01},{"i":50,"v":4.01},
{"i":51,"v":4.01},{"i":52,"v":4.01},{"i":53,"v":4.01},{"i":54,"v":4.01},{"i":55,"v":4.01},{"i":56,"v":4.01},{"i":57,"v":4.01},{"i":58,"v":4.01},{"i":59,"v":4.01},{"i":60,"v":4.01},
{"i":61,"v":4.01},{"i":62,"v":4.01},{"i":63,"v":4.01},{"i":64,"v":4.01},{"i":65,"v":4.01},{"i":66,"v":4.01},{"i":67,"v":4.01},{"i":68,"v":4.01},{"i":69,"v":4.01},{"i":70,"v":4.01},
{"i":71,"v":4.01},{"i":72,"v":4.01},{"i":73,"v":4.01},{"i":74,"v":4.01},{"i":75,"v":4.01},{"i":76,"v":4.01},{"i":77,"v":4.01},{"i":78,"v":4.01},{"i":79,"v":4.01},{"i":80,"v":4.01},
{"i":81,"v":4.01},{"i":82,"v":4.01},{"i":83,"v":4.01},{"i":84,"v":4.01},{"i":85,"v":4.01},{"i":86,"v":4.01},{"i":87,"v":4.01},{"i":88,"v":4.01},{"i":89,"v":4.01},{"i":90,"v":4.01},
{"i":91,"v":4.01},{"i":92,"v":4.01},{"i":93,"v":4.01},{"i":94,"v":4.01},{"i":95,"v":4.01},{"i":96,"v":4.01},{"i":97,"v":4.01},{"i":98,"v":4.01},{"i":99,"v":4.01},{"i":100,"v":4.01}],
"a2r":[{"i":1,"v":6.58},{"i":2,"v":5.46},{"i":3,"v":4.95},{"i":4,"v":4.95},{"i":5,"v":4.72},{"i":6,"v":4.72},{"i":7,"v":4.72},{"i":8,"v":4.72},{"i":9,"v":4.72},{"i":10,"v":4.72},
{"i":11,"v":4.66},{"i":12,"v":4.3},{"i":13,"v":4.08},{"i":14,"v":3.88},{"i":15,"v":3.72},{"i":16,"v":3.58},{"i":17,"v":3.49},{"i":18,"v":3.4},{"i":19,"v":3.34},{"i":20,"v":3.23},
{"i":21,"v":3.12},{"i":22,"v":3.12},{"i":23,"v":3.05},{"i":24,"v":3.05},{"i":25,"v":3.0},{"i":26,"v":2.94},{"i":27,"v":2.94},{"i":28,"v":2.94},{"i":29,"v":2.92},{"i":30,"v":2.92},
{"i":31,"v":2.86},{"i":32,"v":2.78},{"i":33,"v":2.78},{"i":34,"v":2.78},{"i":35,"v":2.78},{"i":36,"v":2.76},{"i":37,"v":2.76},{"i":38,"v":2.76},{"i":39,"v":2.73},{"i":40,"v":2.73},
{"i":41,"v":2.68},{"i":42,"v":2.68},{"i":43,"v":2.68},{"i":44,"v":2.6},{"i":45,"v":2.6},{"i":46,"v":2.54},{"i":47,"v":2.54},{"i":48,"v":2.54},{"i":49,"v":2.54},{"i":50,"v":2.54},
{"i":51,"v":2.54},{"i":52,"v":2.54},{"i":53,"v":2.52},{"i":54,"v":2.52},{"i":55,"v":2.52},{"i":56,"v":2.49},{"i":57,"v":2.49},{"i":58,"v":2.49},{"i":59,"v":2.49},{"i":60,"v":2.49},
{"i":61,"v":2.49},{"i":62,"v":2.49},{"i":63,"v":2.49},{"i":64,"v":2.49},{"i":65,"v":2.49},{"i":66,"v":2.49},{"i":67,"v":2.49},{"i":68,"v":2.44},{"i":69,"v":2.44},{"i":70,"v":2.44},
{"i":71,"v":2.44},{"i":72,"v":2.44},{"i":73,"v":2.44},{"i":74,"v":2.44},{"i":75,"v":2.44},{"i":76,"v":2.44},{"i":77,"v":2.44},{"i":78,"v":2.44},{"i":79,"v":2.44},{"i":80,"v":2.44},
{"i":81,"v":2.44},{"i":82,"v":2.44},{"i":83,"v":2.44},{"i":84,"v":2.44},{"i":85,"v":2.44},{"i":86,"v":2.44},{"i":87,"v":2.44},{"i":88,"v":2.44},{"i":89,"v":2.44},{"i":90,"v":2.44},
{"i":91,"v":2.44},{"i":92,"v":2.44},{"i":93,"v":2.44},{"i":94,"v":2.44},{"i":95,"v":2.44},{"i":96,"v":2.43},{"i":97,"v":2.43},{"i":98,"v":2.35},{"i":99,"v":2.35},{"i":100,"v":2.35}],
"a2e":[{"i":1,"v":7.42},{"i":2,"v":5.97},{"i":3,"v":5.21},{"i":4,"v":4.78},{"i":5,"v":4.67},{"i":6,"v":4.44},{"i":7,"v":4.44},{"i":8,"v":4.44},{"i":9,"v":4.44},{"i":10,"v":4.44},
{"i":11,"v":4.4},{"i":12,"v":3.86},{"i":13,"v":3.56},{"i":14,"v":3.39},{"i":15,"v":3.37},{"i":16,"v":3.35},{"i":17,"v":3.33},{"i":18,"v":3.31},{"i":19,"v":3.29},{"i":20,"v":3.27},
{"i":21,"v":3.27},{"i":22,"v":3.27},{"i":23,"v":3.27},{"i":24,"v":3.27},{"i":25,"v":3.27},{"i":26,"v":3.27},{"i":27,"v":3.27},{"i":28,"v":3.27},{"i":29,"v":3.27},{"i":30,"v":3.27},
{"i":31,"v":3.27},{"i":32,"v":3.27},{"i":33,"v":3.27},{"i":34,"v":3.27},{"i":35,"v":3.27},{"i":36,"v":3.27},{"i":37,"v":3.27},{"i":38,"v":3.27},{"i":39,"v":3.27},{"i":40,"v":3.27},
{"i":41,"v":3.27},{"i":42,"v":3.27},{"i":43,"v":3.27},{"i":44,"v":3.27},{"i":45,"v":3.27},{"i":46,"v":3.27},{"i":47,"v":3.27},{"i":48,"v":3.27},{"i":49,"v":3.27},{"i":50,"v":3.27},
{"i":51,"v":3.27},{"i":52,"v":3.27},{"i":53,"v":3.27},{"i":54,"v":3.27},{"i":55,"v":3.27},{"i":56,"v":3.22},{"i":57,"v":3.22},{"i":58,"v":3.22},{"i":59,"v":3.19},{"i":60,"v":3.19},
{"i":61,"v":3.19},{"i":62,"v":3.18},{"i":63,"v":3.18},{"i":64,"v":3.18},{"i":65,"v":3.18},{"i":66,"v":3.18},{"i":67,"v":3.18},{"i":68,"v":3.18},{"i":69,"v":3.18},{"i":70,"v":3.18},
{"i":71,"v":3.18},{"i":72,"v":3.18},{"i":73,"v":3.17},{"i":74,"v":3.15},{"i":75,"v":3.15},{"i":76,"v":3.15},{"i":77,"v":3.15},{"i":78,"v":3.15},{"i":79,"v":3.07},{"i":80,"v":3.07},
{"i":81,"v":3.07},{"i":82,"v":3.02},{"i":83,"v":2.97},{"i":84,"v":2.97},{"i":85,"v":2.97},{"i":86,"v":2.97},{"i":87,"v":2.97},{"i":88,"v":2.95},{"i":89,"v":2.95},{"i":90,"v":2.95},
{"i":91,"v":2.95},{"i":92,"v":2.9},{"i":93,"v":2.89},{"i":94,"v":2.89},{"i":95,"v":2.89},{"i":96,"v":2.88},{"i":97,"v":2.88},{"i":98,"v":2.88},{"i":99,"v":2.88},{"i":100,"v":2.86}],
"r1n":[{"i":1,"v":6790},{"i":2,"v":3930},{"i":3,"v":2900},{"i":4,"v":2650},{"i":5,"v":2570},{"i":6,"v":2500},{"i":7,"v":2500},{"i":8,"v":2500},{"i":9,"v":2500},{"i":10,"v":2500},
{"i":11,"v":2500},{"i":12,"v":2500},{"i":13,"v":2500},{"i":14,"v":2500},{"i":15,"v":2500},{"i":16,"v":2500},{"i":17,"v":2500},{"i":18,"v":2500},{"i":19,"v":2500},{"i":20,"v":2500},
{"i":21,"v":2500},{"i":22,"v":2500},{"i":23,"v":2500},{"i":24,"v":2500},{"i":25,"v":2500},{"i":26,"v":2500},{"i":27,"v":2500},{"i":28,"v":2500},{"i":29,"v":2500},{"i":30,"v":2500},
{"i":31,"v":2500},{"i":32,"v":2500},{"i":33,"v":2500},{"i":34,"v":2500},{"i":35,"v":2500},{"i":36,"v":2500},{"i":37,"v":2500},{"i":38,"v":2500},{"i":39,"v":2500},{"i":40,"v":2500},
{"i":41,"v":2500},{"i":42,"v":2500},{"i":43,"v":2500},{"i":44,"v":2500},{"i":45,"v":2500},{"i":46,"v":2500},{"i":47,"v":2500},{"i":48,"v":2500},{"i":49,"v":2500},{"i":50,"v":2500},
{"i":51,"v":2500},{"i":52,"v":2500},{"i":53,"v":2500},{"i":54,"v":2500},{"i":55,"v":2500},{"i":56,"v":2500},{"i":57,"v":2500},{"i":58,"v":2500},{"i":59,"v":2500},{"i":60,"v":2500},
{"i":61,"v":2500},{"i":62,"v":2500},{"i":63,"v":2500},{"i":64,"v":2500},{"i":65,"v":2500},{"i":66,"v":2500},{"i":67,"v":2500},{"i":68,"v":2500},{"i":69,"v":2500},{"i":70,"v":2500},
{"i":71,"v":2500},{"i":72,"v":2500},{"i":73,"v":2500},{"i":74,"v":2500},{"i":75,"v":2500},{"i":76,"v":2500},{"i":77,"v":2500},{"i":78,"v":2500},{"i":79,"v":2500},{"i":80,"v":2500},
{"i":81,"v":2500},{"i":82,"v":2500},{"i":83,"v":2500},{"i":84,"v":2500},{"i":85,"v":2500},{"i":86,"v":2500},{"i":87,"v":2500},{"i":88,"v":2500},{"i":89,"v":2500},{"i":90,"v":2500},
{"i":91,"v":2500},{"i":92,"v":2500},{"i":93,"v":2500},{"i":94,"v":2500},{"i":95,"v":2500},{"i":96,"v":2500},{"i":97,"v":2500},{"i":98,"v":2500},{"i":99,"v":2500},{"i":100,"v":2500}],
"r1r":[{"i":1,"v":4810},{"i":2,"v":2140},{"i":3,"v":1075},{"i":4,"v":797},{"i":5,"v":797},{"i":6,"v":606},{"i":7,"v":606},{"i":8,"v":606},{"i":9,"v":606},{"i":10,"v":606},
{"i":11,"v":606},{"i":12,"v":606},{"i":13,"v":606},{"i":14,"v":606},{"i":15,"v":606},{"i":16,"v":606},{"i":17,"v":606},{"i":18,"v":606},{"i":19,"v":443},{"i":20,"v":443},
{"i":21,"v":443},{"i":22,"v":443},{"i":23,"v":409},{"i":24,"v":409},{"i":25,"v":409},{"i":26,"v":409},{"i":27,"v":409},{"i":28,"v":367},{"i":29,"v":367},{"i":30,"v":367},
{"i":31,"v":367},{"i":32,"v":367},{"i":33,"v":367},{"i":34,"v":367},{"i":35,"v":367},{"i":36,"v":367},{"i":37,"v":367},{"i":38,"v":367},{"i":39,"v":321},{"i":40,"v":321},
{"i":41,"v":321},{"i":42,"v":321},{"i":43,"v":321},{"i":44,"v":321},{"i":45,"v":321},{"i":46,"v":321},{"i":47,"v":321},{"i":48,"v":321},{"i":49,"v":321},{"i":50,"v":321},
{"i":51,"v":321},{"i":52,"v":312},{"i":53,"v":312},{"i":54,"v":312},{"i":55,"v":312},{"i":56,"v":312},{"i":57,"v":312},{"i":58,"v":312},{"i":59,"v":312},{"i":60,"v":312},
{"i":61,"v":312},{"i":62,"v":312},{"i":63,"v":312},{"i":64,"v":312},{"i":65,"v":312},{"i":66,"v":312},{"i":67,"v":312},{"i":68,"v":312},{"i":69,"v":312},{"i":70,"v":312},
{"i":71,"v":312},{"i":72,"v":312},{"i":73,"v":312},{"i":74,"v":312},{"i":75,"v":312},{"i":76,"v":312},{"i":77,"v":309},{"i":78,"v":309},{"i":79,"v":309},{"i":80,"v":309},
{"i":81,"v":309},{"i":82,"v":309},{"i":83,"v":309},{"i":84,"v":309},{"i":85,"v":309},{"i":86,"v":309},{"i":87,"v":309},{"i":88,"v":309},{"i":89,"v":309},{"i":90,"v":309},
{"i":91,"v":309},{"i":92,"v":309},{"i":93,"v":309},{"i":94,"v":309},{"i":95,"v":309},{"i":96,"v":309},{"i":97,"v":309},{"i":98,"v":309},{"i":99,"v":309},{"i":100,"v":309}],
"r1e":[{"i":1,"v":3630},{"i":2,"v":1760},{"i":3,"v":1210},{"i":4,"v":1153},{"i":5,"v":1153},{"i":6,"v":1153},{"i":7,"v":1153},{"i":8,"v":1153},{"i":9,"v":1153},{"i":10,"v":1153},
{"i":11,"v":1153},{"i":12,"v":1153},{"i":13,"v":1153},{"i":14,"v":1153},{"i":15,"v":1064},{"i":16,"v":700},{"i":17,"v":700},{"i":18,"v":700},{"i":19,"v":700},{"i":20,"v":700},
{"i":21,"v":700},{"i":22,"v":700},{"i":23,"v":700},{"i":24,"v":700},{"i":25,"v":700},{"i":26,"v":700},{"i":27,"v":700},{"i":28,"v":700},{"i":29,"v":700},{"i":30,"v":700},
{"i":31,"v":700},{"i":32,"v":700},{"i":33,"v":700},{"i":34,"v":700},{"i":35,"v":700},{"i":36,"v":700},{"i":37,"v":681},{"i":38,"v":681},{"i":39,"v":681},{"i":40,"v":681},
{"i":41,"v":681},{"i":42,"v":681},{"i":43,"v":681},{"i":44,"v":681},{"i":45,"v":681},{"i":46,"v":681},{"i":47,"v":681},{"i":48,"v":681},{"i":49,"v":681},{"i":50,"v":681},
{"i":51,"v":681},{"i":52,"v":681},{"i":53,"v":681},{"i":54,"v":681},{"i":55,"v":681},{"i":56,"v":681},{"i":57,"v":681},{"i":58,"v":681},{"i":59,"v":681},{"i":60,"v":681},
{"i":61,"v":681},{"i":62,"v":681},{"i":63,"v":681},{"i":64,"v":681},{"i":65,"v":681},{"i":66,"v":681},{"i":67,"v":681},{"i":68,"v":681},{"i":69,"v":681},{"i":70,"v":681},
{"i":71,"v":676},{"i":72,"v":676},{"i":73,"v":676},{"i":74,"v":676},{"i":75,"v":676},{"i":76,"v":676},{"i":77,"v":676},{"i":78,"v":676},{"i":79,"v":676},{"i":80,"v":676},
{"i":81,"v":676},{"i":82,"v":665},{"i":83,"v":665},{"i":84,"v":665},{"i":85,"v":665},{"i":86,"v":665},{"i":87,"v":665},{"i":88,"v":665},{"i":89,"v":665},{"i":90,"v":665},
{"i":91,"v":665},{"i":92,"v":665},{"i":93,"v":665},{"i":94,"v":665},{"i":95,"v":665},{"i":96,"v":665},{"i":97,"v":665},{"i":98,"v":665},{"i":99,"v":665},{"i":100,"v":665}],
"r2n":[{"i":1,"v":2415},{"i":2,"v":1134},{"i":3,"v":735},{"i":4,"v":705},{"i":5,"v":705},{"i":6,"v":705},{"i":7,"v":705},{"i":8,"v":705},{"i":9,"v":705},{"i":10,"v":705},
{"i":11,"v":705},{"i":12,"v":705},{"i":13,"v":705},{"i":14,"v":705},{"i":15,"v":705},{"i":16,"v":705},{"i":17,"v":705},{"i":18,"v":705},{"i":19,"v":705},{"i":20,"v":705},
{"i":21,"v":705},{"i":22,"v":705},{"i":23,"v":705},{"i":24,"v":705},{"i":25,"v":705},{"i":26,"v":705},{"i":27,"v":705},{"i":28,"v":705},{"i":29,"v":705},{"i":30,"v":705},
{"i":31,"v":705},{"i":32,"v":705},{"i":33,"v":705},{"i":34,"v":705},{"i":35,"v":705},{"i":36,"v":705},{"i":37,"v":705},{"i":38,"v":705},{"i":39,"v":705},{"i":40,"v":705},
{"i":41,"v":705},{"i":42,"v":705},{"i":43,"v":705},{"i":44,"v":705},{"i":45,"v":705},{"i":46,"v":705},{"i":47,"v":705},{"i":48,"v":705},{"i":49,"v":705},{"i":50,"v":705},
{"i":51,"v":705},{"i":52,"v":705},{"i":53,"v":705},{"i":54,"v":705},{"i":55,"v":705},{"i":56,"v":705},{"i":57,"v":705},{"i":58,"v":705},{"i":59,"v":705},{"i":60,"v":705},
{"i":61,"v":705},{"i":62,"v":705},{"i":63,"v":705},{"i":64,"v":705},{"i":65,"v":705},{"i":66,"v":705},{"i":67,"v":705},{"i":68,"v":705},{"i":69,"v":705},{"i":70,"v":705},
{"i":71,"v":705},{"i":72,"v":705},{"i":73,"v":705},{"i":74,"v":705},{"i":75,"v":705},{"i":76,"v":705},{"i":77,"v":705},{"i":78,"v":705},{"i":79,"v":705},{"i":80,"v":705},
{"i":81,"v":705},{"i":82,"v":705},{"i":83,"v":705},{"i":84,"v":705},{"i":85,"v":705},{"i":86,"v":705},{"i":87,"v":705},{"i":88,"v":705},{"i":89,"v":705},{"i":90,"v":705},
{"i":91,"v":705},{"i":92,"v":705},{"i":93,"v":705},{"i":94,"v":705},{"i":95,"v":705},{"i":96,"v":705},{"i":97,"v":705},{"i":98,"v":705},{"i":99,"v":705},{"i":100,"v":705}],
"r2r":[{"i":1,"v":10500},{"i":2,"v":7880},{"i":3,"v":7350},{"i":4,"v":7100},{"i":5,"v":7100},{"i":6,"v":7100},{"i":7,"v":7100},{"i":8,"v":7100},{"i":9,"v":7100},{"i":10,"v":6950},
{"i":11,"v":6000},{"i":12,"v":2624},{"i":13,"v":1351},{"i":14,"v":1158},{"i":15,"v":1158},{"i":16,"v":952},{"i":17,"v":888},{"i":18,"v":888},{"i":19,"v":817},{"i":20,"v":817},
{"i":21,"v":794},{"i":22,"v":794},{"i":23,"v":794},{"i":24,"v":794},{"i":25,"v":772},{"i":26,"v":772},{"i":27,"v":772},{"i":28,"v":772},{"i":29,"v":735},{"i":30,"v":735},
{"i":31,"v":735},{"i":32,"v":735},{"i":33,"v":735},{"i":34,"v":735},{"i":35,"v":735},{"i":36,"v":735},{"i":37,"v":735},{"i":38,"v":735},{"i":39,"v":735},{"i":40,"v":735},
{"i":41,"v":735},{"i":42,"v":735},{"i":43,"v":735},{"i":44,"v":735},{"i":45,"v":735},{"i":46,"v":735},{"i":47,"v":735},{"i":48,"v":735},{"i":49,"v":735},{"i":50,"v":735},
{"i":51,"v":710},{"i":52,"v":710},{"i":53,"v":710},{"i":54,"v":710},{"i":55,"v":710},{"i":56,"v":710},{"i":57,"v":710},{"i":58,"v":710},{"i":59,"v":710},{"i":60,"v":710},
{"i":61,"v":710},{"i":62,"v":710},{"i":63,"v":710},{"i":64,"v":710},{"i":65,"v":710},{"i":66,"v":710},{"i":67,"v":710},{"i":68,"v":710},{"i":69,"v":710},{"i":70,"v":710},
{"i":71,"v":710},{"i":72,"v":710},{"i":73,"v":671},{"i":74,"v":671},{"i":75,"v":671},{"i":76,"v":671},{"i":77,"v":671},{"i":78,"v":671},{"i":79,"v":671},{"i":80,"v":671},
{"i":81,"v":671},{"i":82,"v":671},{"i":83,"v":596},{"i":84,"v":596},{"i":85,"v":596},{"i":86,"v":596},{"i":87,"v":596},{"i":88,"v":596},{"i":89,"v":596},{"i":90,"v":596},
{"i":91,"v":596},{"i":92,"v":596},{"i":93,"v":571},{"i":94,"v":571},{"i":95,"v":571},{"i":96,"v":571},{"i":97,"v":544},{"i":98,"v":544},{"i":99,"v":544},{"i":100,"v":544}],
"r2e":[{"i":1,"v":3400},{"i":2,"v":2480},{"i":3,"v":2205},{"i":4,"v":2160},{"i":5,"v":2160},{"i":6,"v":2160},{"i":7,"v":2160},{"i":8,"v":2160},{"i":9,"v":2160},{"i":10,"v":2160},
{"i":11,"v":2084},{"i":12,"v":2084},{"i":13,"v":2084},{"i":14,"v":2000},{"i":15,"v":2000},{"i":16,"v":1879},{"i":17,"v":1879},{"i":18,"v":1879},{"i":19,"v":1825},{"i":20,"v":1825},
{"i":21,"v":1825},{"i":22,"v":1780},{"i":23,"v":1726},{"i":24,"v":1726},{"i":25,"v":1726},{"i":26,"v":1726},{"i":27,"v":1726},{"i":28,"v":1702},{"i":29,"v":1702},{"i":30,"v":1702},
{"i":31,"v":1702},{"i":32,"v":1702},{"i":33,"v":1702},{"i":34,"v":1702},{"i":35,"v":1702},{"i":36,"v":1681},{"i":37,"v":1681},{"i":38,"v":1681},{"i":39,"v":1681},{"i":40,"v":1681},
{"i":41,"v":1681},{"i":42,"v":1681},{"i":43,"v":1681},{"i":44,"v":1681},{"i":45,"v":1681},{"i":46,"v":1681},{"i":47,"v":1681},{"i":48,"v":1656},{"i":49,"v":1656},{"i":50,"v":1656},
{"i":51,"v":1656},{"i":52,"v":1656},{"i":53,"v":1656},{"i":54,"v":1656},{"i":55,"v":1656},{"i":56,"v":1656},{"i":57,"v":1656},{"i":58,"v":1656},{"i":59,"v":1656},{"i":60,"v":1656},
{"i":61,"v":1656},{"i":62,"v":1656},{"i":63,"v":1656},{"i":64,"v":1656},{"i":65,"v":1656},{"i":66,"v":1656},{"i":67,"v":1656},{"i":68,"v":1656},{"i":69,"v":1656},{"i":70,"v":1656},
{"i":71,"v":1644},{"i":72,"v":1644},{"i":73,"v":1644},{"i":74,"v":1644},{"i":75,"v":1644},{"i":76,"v":1644},{"i":77,"v":1644},{"i":78,"v":1644},{"i":79,"v":1644},{"i":80,"v":1644},
{"i":81,"v":1644},{"i":82,"v":1644},{"i":83,"v":1644},{"i":84,"v":1644},{"i":85,"v":1644},{"i":86,"v":1644},{"i":87,"v":1644},{"i":88,"v":1644},{"i":89,"v":1644},{"i":90,"v":1644},
{"i":91,"v":1644},{"i":92,"v":1644},{"i":93,"v":1644},{"i":94,"v":1644},{"i":95,"v":1644},{"i":96,"v":1621},{"i":97,"v":1621},{"i":98,"v":1621},{"i":99,"v":1621},{"i":100,"v":1621}]
}
}
